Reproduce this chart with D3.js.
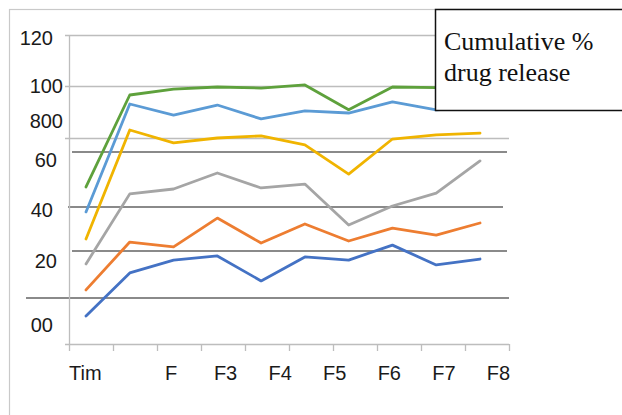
<!DOCTYPE html>
<html>
<head>
<meta charset="utf-8">
<script src="https://cdn.jsdelivr.net/npm/d3@7"></script>
<style>
  html, body { margin: 0; padding: 0; background: #fff; }
  svg { display: block; }
</style>
</head>
<body>
<script>
// Sampling points along the x axis (ten per series)
const samplePoints = [1, 2, 3, 4, 5, 6, 7, 8, 9, 10];

// Cumulative % drug release per formulation
const seriesLightBlue = [51.3, 93.2, 88.9, 92.8, 87.4, 90.5, 89.7, 94.0, 90.9, 92.0];
const seriesOrange    = [21.0, 39.6, 37.7, 48.9, 39.2, 46.6, 40.0, 45.0, 42.3, 47.0];
const seriesGray      = [31.1, 58.3, 60.2, 66.4, 60.6, 62.1, 46.2, 53.6, 58.6, 71.1];
const seriesYellow    = [40.8, 83.1, 78.1, 80.0, 80.8, 77.3, 66.0, 79.6, 81.2, 81.9];
const seriesDarkBlue  = [10.9, 27.6, 32.6, 34.2, 24.5, 33.8, 32.6, 38.4, 30.7, 33.0];
const seriesGreen     = [61.0, 96.7, 99.0, 99.8, 99.4, 100.6, 91.0, 99.8, 99.6, 99.4];

// Axis texts
const xTickLabels = ["Tim", "F", "F3", "F4", "F5", "F6", "F7", "F8"];
const yGridValues = [120, 100, 80];
const yTickLabels = ["120", "100", "800", "60", "40", "20", "00"];
const yTickLabelAt = [118.8, 100.2, 86.6, 71.5, 52.0, 32.2, 7.4];
// Extra horizontal rules (value levels)
const ruleValues = [74.6, 53.2, 36.1, 17.9];

const titleLines = ["Cumulative %", "drug release"];

// ---- layout ----
const W = 622, H = 415;
const plot = { left: 69, right: 509, top: 35, bottom: 344 };
const yLabelRight = [53, 63, 63, 57, 53, 57, 53];
const ruleExtent = [[72, 507], [68, 503], [72, 507], [26, 509]];

const svg = d3.select("body").append("svg")
  .attr("width", W).attr("height", H)
  .style("font-family", "'Liberation Sans', Arial, sans-serif");

const y = d3.scaleLinear().domain([0, 120]).range([plot.bottom, plot.top]);
const x = d3.scalePoint().domain(samplePoints).range([86, 480]);
const xBand = d3.scaleBand().domain(samplePoints).range([plot.left, plot.right]);
const xLabel = d3.scalePoint().domain(xTickLabels.slice(1)).range([171, 498.5]);

// outer chart frame
svg.append("rect")
  .attr("x", 9.5).attr("y", 9.5)
  .attr("width", 800).attr("height", 600)
  .attr("fill", "none").attr("stroke", "#c9c9c9").attr("stroke-width", 1.2);

// major gridlines
svg.append("g").selectAll("line").data(yGridValues).join("line")
  .attr("x1", plot.left - 4).attr("x2", plot.right)
  .attr("y1", d => Math.round(y(d)) + 0.5).attr("y2", d => Math.round(y(d)) + 0.5)
  .attr("stroke", "#bdbdbd").attr("stroke-width", 1.3);

// darker rules
svg.append("g").selectAll("line").data(ruleValues).join("line")
  .attr("x1", (d, i) => ruleExtent[i][0]).attr("x2", (d, i) => ruleExtent[i][1])
  .attr("y1", d => y(d)).attr("y2", d => y(d))
  .attr("stroke", "#8a8a8a").attr("stroke-width", 2);

// y axis line
svg.append("line")
  .attr("x1", plot.left + 0.5).attr("x2", plot.left + 0.5)
  .attr("y1", plot.top).attr("y2", plot.bottom)
  .attr("stroke", "#bdbdbd").attr("stroke-width", 1.3);

// x axis line and tick marks at category boundaries
svg.append("line")
  .attr("x1", plot.left - 4).attr("x2", plot.right)
  .attr("y1", plot.bottom + 0.5).attr("y2", plot.bottom + 0.5)
  .attr("stroke", "#bdbdbd").attr("stroke-width", 1.3);
const tickXs = samplePoints.map(d => xBand(d)).concat([xBand(samplePoints[samplePoints.length - 1]) + xBand.bandwidth()]);
svg.append("g").selectAll("line").data(tickXs).join("line")
  .attr("x1", d => Math.round(d) + 0.5).attr("x2", d => Math.round(d) + 0.5)
  .attr("y1", plot.bottom).attr("y2", plot.bottom + 7)
  .attr("stroke", "#bdbdbd").attr("stroke-width", 1.3);

// y tick labels
svg.append("g").selectAll("text").data(yTickLabels).join("text")
  .attr("x", (d, i) => yLabelRight[i])
  .attr("y", (d, i) => y(yTickLabelAt[i]))
  .attr("dy", "0.35em")
  .attr("text-anchor", "end")
  .attr("font-size", 20)
  .attr("fill", "#1a1a1a")
  .text(d => d);

// x tick labels
svg.append("text")
  .attr("x", plot.left).attr("y", 380)
  .attr("font-size", 20).attr("fill", "#1a1a1a")
  .text(xTickLabels[0]);
svg.append("g").selectAll("text").data(xTickLabels.slice(1)).join("text")
  .attr("x", d => xLabel(d)).attr("y", 380)
  .attr("text-anchor", "middle")
  .attr("font-size", 20).attr("fill", "#1a1a1a")
  .text(d => d);

// series lines
const series = [
  { values: seriesDarkBlue,  color: "#4472c4" },
  { values: seriesOrange,    color: "#ed7d31" },
  { values: seriesGray,      color: "#a5a5a5" },
  { values: seriesYellow,    color: "#f0b400" },
  { values: seriesLightBlue, color: "#5b9bd5" },
  { values: seriesGreen,     color: "#5ea13c" }
];
const line = d3.line()
  .x((d, i) => x(samplePoints[i]))
  .y(d => y(d));
svg.append("g").selectAll("path").data(series).join("path")
  .attr("d", d => line(d.values))
  .attr("fill", "none")
  .attr("stroke", d => d.color)
  .attr("stroke-width", 2.8)
  .attr("stroke-linejoin", "round")
  .attr("stroke-linecap", "round");

// title box
svg.append("rect")
  .attr("x", 435.5).attr("y", 9.5)
  .attr("width", 200).attr("height", 101)
  .attr("fill", "#fff").attr("stroke", "#111").attr("stroke-width", 1.5);
svg.append("g").selectAll("text").data(titleLines).join("text")
  .attr("x", 444)
  .attr("y", (d, i) => 50 + i * 31)
  .attr("font-family", "'Liberation Serif', 'Times New Roman', serif")
  .attr("font-size", 26)
  .attr("fill", "#111")
  .text(d => d);
</script>
</body>
</html>
